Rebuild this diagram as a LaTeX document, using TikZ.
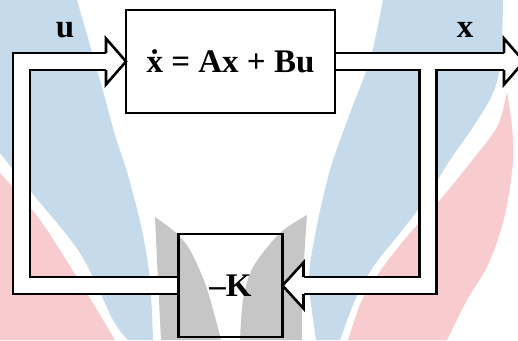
\documentclass[tikz,border=0pt]{standalone}
\usepackage{fontspec}
\setmainfont{Liberation Serif}
\usetikzlibrary{positioning,calc}
\definecolor{wmblue}{HTML}{C5DBEB}
\definecolor{wmpink}{HTML}{F8CBCE}
\definecolor{wmgray}{HTML}{C6C6C6}

\begin{document}
\begin{tikzpicture}[x=1pt,y=-1pt,
    blk/.style={draw,line width=2.6pt,minimum width=#1,minimum height=103pt,inner sep=0pt,outer sep=0pt},
    lbl/.style={font=\fontsize{33}{36}\selectfont\bfseries},
    pipe/.style={line width=19.6pt},
    pipein/.style={white,line width=14.4pt},
    head/.style={draw,fill=white,line width=2.6pt}]
  \useasboundingbox (0,0) rectangle (518,340);
  % watermark behind the diagram
  \fill[wmblue] (0,0) -- plot[smooth] coordinates {(77,0) (100,80) (115,135) (128,175) (142,230) (150,280) (153,340)} -- plot[smooth] coordinates {(128,340) (113,320) (80,253) (27,187) (0,153)} -- cycle;
  \fill[wmpink] plot[smooth] coordinates {(0,173) (40,220) (83,287) (115,340)} -- (0,340) -- cycle;
  \fill[wmblue] plot[smooth] coordinates {(383,0) (370,60) (350,113) (330,170) (316,230) (309,280) (316,340)} -- plot[smooth] coordinates {(340,340) (355,300) (373,267) (400,233) (425,200) (450,160) (473,127) (493,93) (501,60) (503,0)} -- cycle;
  \fill[wmpink] plot[smooth] coordinates {(507,92) (497,127) (470,163) (440,200) (410,233) (383,267) (362,300) (348,340)} -- plot[smooth] coordinates {(447,340) (467,300) (487,267) (500,233) (508,200) (513,160) (512,127) (507,92)} -- cycle;
  \fill[wmgray] plot[smooth] coordinates {(155,217) (157,260) (159,300) (161,340)} -- plot[smooth] coordinates {(221,340) (215,317) (205,283) (190,250) (175,232) (155,217)} -- cycle;
  \fill[wmgray] plot[smooth] coordinates {(307,215) (304,260) (302,300) (302,340)} -- plot[smooth] coordinates {(240,340) (243,300) (253,267) (280,233) (307,215)} -- cycle;

  \node[blk=209pt,lbl,fill=white] (sys) at (230.5,61.5) {ẋ = Ax + Bu};
  \node[blk=104pt,lbl,below=121pt of sys] (gain) {–K};
  \node[lbl] (ulbl) at (65,30) {u};
  \node[lbl] (xlbl) at (465,30) {x};

  \coordinate (ucorner) at (21.5,61.5);
  \coordinate (ubase) at ([xshift=-20pt]sys.west);
  \coordinate (xbase) at (504,61.5);
  \coordinate (xtip) at (524,61.5);
  \coordinate (tap) at (428,61.5);
  \coordinate (kbase) at ([xshift=21pt]gain.east);

  % hollow connectors: outline first, then the white core
  \draw[pipe] (gain.west) -| (ucorner) -- (ubase);
  \draw[pipe] (sys.east) -- (xbase);
  \draw[pipe] (tap) |- (kbase);
  \draw[pipein,shorten <=1.3pt] (gain.west) -| (ucorner) -- (ubase);
  \draw[pipein,shorten <=1.3pt] (sys.east) -- (xbase);
  \draw[pipein] (tap) |- (kbase);

  \filldraw[head] ($(ubase)+(0,-8.5)$) -- ++(0,-14.5) -- (sys.west) -- ($(ubase)+(0,23)$) -- ++(0,-14.5);
  \filldraw[head] ($(xbase)+(0,-8.5)$) -- ++(0,-14.5) -- (xtip) -- ($(xbase)+(0,23)$) -- ++(0,-14.5);
  \filldraw[head] ($(kbase)+(0,-8.5)$) -- ++(0,-14.5) -- (gain.east) -- ($(kbase)+(0,23)$) -- ++(0,-14.5);
\end{tikzpicture}
\end{document}
